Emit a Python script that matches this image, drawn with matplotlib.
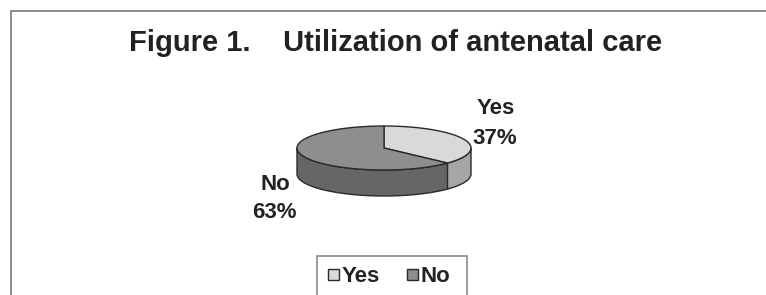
import numpy as np
import matplotlib
matplotlib.use('Agg')
import matplotlib.pyplot as plt
from matplotlib.patches import Polygon, Rectangle

# data
labels = ['Yes', 'No']
values = [37, 63]
top_colors = ['#d9d9d9', '#8e8e8e']
side_colors = ['#a6a6a6', '#666666']

W, H = 766, 295
plt.rcParams['font.family'] = ['Liberation Sans', 'DejaVu Sans']

fig = plt.figure(figsize=(W / 100, H / 100), dpi=100)
ax = fig.add_axes([0, 0, 1, 1])
ax.set_xlim(0, W)
ax.set_ylim(H, 0)
ax.axis('off')

# chart frame (runs off the right and bottom edges)
ax.plot([11, 11, W], [H, 11, 11], color='#8a8a8a', lw=1.4)

ax.text(396, 43, 'Figure 1.    Utilization of antenatal care', ha='center',
        va='center', fontsize=21, fontweight='bold', color='#222222')

# 3-D pie geometry (pixels)
cx, cy, a, b, depth = 384, 148, 87, 22, 26


def arc(t0, t1, n=200):
    t = np.radians(np.linspace(t0, t1, n))
    return np.column_stack([cx + a * np.cos(t), cy - b * np.sin(t)])


fracs = np.array(values) / sum(values)
starts = 90 - 360 * np.concatenate([[0], np.cumsum(fracs)[:-1]])
ends = starts - 360 * fracs

# side walls, only the front half (angles between -180 and 0) is visible
for s, e, col in zip(starts, ends, side_colors):
    lo, hi = max(e, -180), min(s, 0)
    if lo >= hi:
        continue
    top = arc(hi, lo)
    bot = top[::-1] + [0, depth]
    ax.add_patch(Polygon(np.vstack([top, bot]), closed=True, fc=col,
                         ec='#2a2a2a', lw=1.0, zorder=2))

# top faces
for s, e, col in zip(starts, ends, top_colors):
    pts = np.vstack([[cx, cy], arc(s, e)])
    ax.add_patch(Polygon(pts, closed=True, fc=col, ec='#2a2a2a', lw=1.0,
                         zorder=3))

# slice labels: name on one line, percentage below
lab_kw = dict(ha='center', va='center', fontsize=16, fontweight='bold',
              color='#222222')
ax.text(496, 109, labels[0], **lab_kw)
ax.text(495, 139, f'{values[0]}%', **lab_kw)
ax.text(275, 184, labels[1], **lab_kw)
ax.text(274, 212, f'{values[1]}%', **lab_kw)

# legend box
ax.add_patch(Rectangle((317, 256), 150, 60, fc='white', ec='#8a8a8a',
                       lw=1.2, zorder=4, clip_on=True))
for x0, col, name in [(328, top_colors[0], labels[0]),
                      (407, top_colors[1], labels[1])]:
    ax.add_patch(Rectangle((x0, 269), 11, 11, fc=col, ec='#2a2a2a', lw=1.0,
                           zorder=5))
    ax.text(x0 + 14, 276, name, ha='left', va='center', fontsize=16,
            fontweight='bold', color='#222222', zorder=5)

fig.savefig('out.png', dpi=100)
